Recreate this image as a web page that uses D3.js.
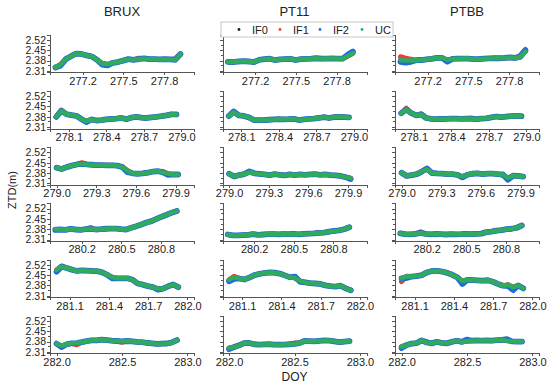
<!DOCTYPE html>
<html lang="en">
<head>
	<meta charset="utf-8"/>
	<title>ZTD time series BRUX / PT11 / PTBB</title>
	<script src="https://d3js.org/d3.v7.min.js" charset="utf-8"></script>
	<style>
	body { margin: 0; background: #fff; }
	text { font-family: "Liberation Sans", Arial, sans-serif; fill: #222; }
	.axis path, .axis line { stroke: #555; shape-rendering: crispEdges; }
	.trace { fill: none; stroke-linejoin: round; stroke-linecap: round; }
	</style>
</head>
<body>
<svg width="550" height="386" id="chart"></svg>

<script>
// DATA
var stations = ["BRUX", "PT11", "PTBB"];
var seriesNames = ["IF0", "IF1", "IF2", "UC"];
var seriesColors = ["#1b1b2f", "#f03c3c", "#1f6be0", "#2fab5e"];

// one row per day of year
var dayStart = [277.0, 278.0, 279.0, 280.0, 281.0, 282.0];
var dayEnd = [277.92, 278.96, 279.92, 280.92, 281.93, 282.92];
var xDomains = [[276.96, 278.02], [277.95, 279.1], [278.95, 280.04], [279.96, 281.05], [280.95, 282.05], [281.95, 283.05]];
var xTicks = [
	[277.2, 277.5, 277.8],
	[278.1, 278.4, 278.7, 279.0],
	[279.0, 279.3, 279.6, 279.9],
	[280.2, 280.5, 280.8],
	[281.1, 281.4, 281.7, 282.0],
	[282.0, 282.5, 283.0]
];
var yTicks = [2.31, 2.38, 2.45, 2.52];
var yMinor = [2.345, 2.415, 2.485];

// UC ztd (m), equally spaced epochs between dayStart and dayEnd
var brux = [
	[2.333, 2.355, 2.39, 2.41, 2.428, 2.425, 2.415, 2.408, 2.385, 2.36, 2.355, 2.365, 2.37, 2.38, 2.39, 2.385, 2.39, 2.395, 2.39, 2.39, 2.388, 2.39, 2.388, 2.385, 2.425],
	[2.38, 2.42, 2.398, 2.392, 2.387, 2.365, 2.35, 2.362, 2.355, 2.357, 2.363, 2.365, 2.368, 2.372, 2.364, 2.375, 2.38, 2.374, 2.372, 2.376, 2.38, 2.384, 2.39, 2.397, 2.396],
	[2.416, 2.407, 2.42, 2.43, 2.438, 2.442, 2.438, 2.436, 2.434, 2.433, 2.432, 2.432, 2.43, 2.42, 2.396, 2.378, 2.375, 2.378, 2.382, 2.39, 2.392, 2.384, 2.376, 2.37, 2.37],
	[2.38, 2.378, 2.376, 2.382, 2.378, 2.376, 2.38, 2.383, 2.378, 2.38, 2.383, 2.384, 2.384, 2.38, 2.378, 2.39, 2.4, 2.412, 2.425, 2.435, 2.45, 2.465, 2.478, 2.492, 2.503],
	[2.485, 2.507, 2.498, 2.487, 2.478, 2.482, 2.48, 2.478, 2.477, 2.468, 2.452, 2.435, 2.428, 2.428, 2.428, 2.418, 2.393, 2.385, 2.375, 2.368, 2.358, 2.358, 2.374, 2.386, 2.368],
	[2.366, 2.352, 2.362, 2.368, 2.37, 2.376, 2.383, 2.389, 2.389, 2.393, 2.39, 2.386, 2.384, 2.382, 2.384, 2.382, 2.378, 2.376, 2.372, 2.368, 2.364, 2.366, 2.367, 2.374, 2.39]
];
var pt11 = [
	[2.372, 2.37, 2.374, 2.376, 2.374, 2.37, 2.385, 2.39, 2.393, 2.384, 2.388, 2.39, 2.392, 2.384, 2.39, 2.392, 2.393, 2.396, 2.393, 2.394, 2.395, 2.394, 2.393, 2.41, 2.43],
	[2.385, 2.41, 2.39, 2.386, 2.376, 2.358, 2.357, 2.358, 2.36, 2.362, 2.364, 2.363, 2.364, 2.366, 2.358, 2.362, 2.366, 2.368, 2.372, 2.378, 2.372, 2.378, 2.38, 2.378, 2.376],
	[2.375, 2.356, 2.366, 2.373, 2.385, 2.378, 2.374, 2.37, 2.366, 2.372, 2.368, 2.364, 2.37, 2.366, 2.37, 2.368, 2.37, 2.372, 2.368, 2.37, 2.366, 2.364, 2.36, 2.352, 2.345],
	[2.344, 2.338, 2.338, 2.34, 2.342, 2.347, 2.342, 2.344, 2.346, 2.347, 2.345, 2.347, 2.346, 2.348, 2.345, 2.348, 2.35, 2.352, 2.355, 2.357, 2.363, 2.368, 2.372, 2.38, 2.393],
	[2.418, 2.436, 2.427, 2.42, 2.433, 2.45, 2.458, 2.464, 2.468, 2.466, 2.46, 2.448, 2.436, 2.43, 2.41, 2.4, 2.396, 2.393, 2.39, 2.38, 2.375, 2.372, 2.378, 2.36, 2.347],
	[2.337, 2.343, 2.355, 2.37, 2.371, 2.362, 2.36, 2.361, 2.362, 2.36, 2.359, 2.36, 2.362, 2.364, 2.37, 2.384, 2.383, 2.382, 2.385, 2.388, 2.387, 2.382, 2.376, 2.38, 2.383]
];
var ptbb = [
	[2.384, 2.38, 2.38, 2.383, 2.384, 2.388, 2.392, 2.398, 2.398, 2.385, 2.392, 2.393, 2.394, 2.394, 2.39, 2.39, 2.393, 2.395, 2.396, 2.396, 2.398, 2.401, 2.398, 2.405, 2.44],
	[2.404, 2.43, 2.405, 2.39, 2.395, 2.372, 2.366, 2.364, 2.365, 2.366, 2.367, 2.367, 2.366, 2.368, 2.366, 2.364, 2.368, 2.37, 2.376, 2.382, 2.378, 2.382, 2.384, 2.386, 2.384],
	[2.382, 2.36, 2.366, 2.373, 2.39, 2.405, 2.38, 2.377, 2.376, 2.372, 2.372, 2.368, 2.356, 2.368, 2.375, 2.378, 2.372, 2.376, 2.376, 2.372, 2.37, 2.346, 2.362, 2.36, 2.356],
	[2.352, 2.346, 2.345, 2.348, 2.355, 2.348, 2.345, 2.348, 2.346, 2.344, 2.346, 2.345, 2.346, 2.348, 2.346, 2.348, 2.35, 2.36, 2.364, 2.37, 2.374, 2.38, 2.383, 2.39, 2.405],
	[2.428, 2.442, 2.44, 2.443, 2.45, 2.468, 2.478, 2.478, 2.474, 2.465, 2.452, 2.435, 2.41, 2.418, 2.416, 2.414, 2.412, 2.415, 2.405, 2.39, 2.378, 2.384, 2.368, 2.38, 2.36],
	[2.346, 2.357, 2.366, 2.37, 2.388, 2.374, 2.368, 2.378, 2.372, 2.368, 2.378, 2.386, 2.378, 2.382, 2.386, 2.388, 2.387, 2.388, 2.386, 2.39, 2.392, 2.386, 2.382, 2.38, 2.38]
];
var ucData = [brux, pt11, ptbb];

// where IF1 / IF2 leave the UC band: [station, day row, epoch index, difference (m)]
var if1Diff = [
	[0, 0, 16, 0.006], [0, 0, 23, 0.008], [0, 1, 1, 0.006], [0, 2, 5, 0.008], [0, 2, 21, 0.006],
	[0, 3, 7, 0.008], [0, 4, 1, 0.005], [0, 5, 1, -0.012], [0, 5, 4, -0.012], [0, 5, 13, -0.006],
	[1, 4, 1, 0.006], [1, 5, 13, 0.006],
	[2, 0, 0, 0.022], [2, 0, 1, 0.016], [2, 0, 2, 0.01], [2, 0, 23, 0.01], [2, 0, 24, 0.016],
	[2, 1, 1, 0.008], [2, 1, 4, 0.006], [2, 1, 14, 0.006], [2, 2, 5, 0.008], [2, 2, 20, -0.006],
	[2, 3, 4, 0.008], [2, 3, 7, -0.006], [2, 4, 0, -0.022], [2, 5, 5, 0.006]
];
var if2Diff = [
	[0, 0, 1, -0.008], [0, 0, 9, -0.008], [0, 0, 10, -0.008], [0, 1, 6, -0.006], [0, 2, 14, -0.01],
	[0, 2, 22, -0.008], [0, 3, 0, -0.005], [0, 4, 0, -0.012], [0, 4, 11, -0.008], [0, 4, 20, -0.006],
	[0, 5, 1, -0.008],
	[1, 0, 23, 0.01], [1, 0, 24, 0.012], [1, 1, 1, 0.006], [1, 2, 4, 0.006], [1, 2, 24, -0.006],
	[1, 4, 0, -0.01], [1, 4, 1, -0.012], [1, 4, 13, 0.01], [1, 4, 14, -0.006], [1, 5, 0, -0.008],
	[2, 0, 0, -0.012], [2, 0, 1, -0.014], [2, 0, 2, -0.008], [2, 0, 9, -0.012], [2, 0, 24, 0.008],
	[2, 2, 5, 0.004], [2, 2, 12, -0.006], [2, 2, 21, -0.012], [2, 4, 1, -0.012], [2, 4, 12, -0.02],
	[2, 4, 21, -0.008], [2, 4, 22, -0.02], [2, 5, 0, -0.01], [2, 5, 13, 0.012], [2, 5, 21, 0.01]
];

// LAYOUT
var colLeft = [50, 222.5, 395],
	panelW = 144,
	panelH = 37.6,
	rowTop = 34.8,
	rowStep = 56.2;

var svg = d3.select("#chart");

var y = d3.scaleLinear()
	.domain([2.30, 2.555])
	.range([panelH, 0]);

// build the four series for one panel
function panelSeries(s, r) {
	var uc = ucData[s][r];
	var n = uc.length;
	var step = (dayEnd[r] - dayStart[r]) / (n - 1);
	var t = uc.map(function(v, i) { return dayStart[r] + i * step; });
	var out = seriesNames.map(function() { return uc.slice(); });
	if1Diff.forEach(function(d) { if (d[0] == s && d[1] == r) out[1][d[2]] += d[3]; });
	if2Diff.forEach(function(d) { if (d[0] == s && d[1] == r) out[2][d[2]] += d[3]; });
	return out.map(function(vals) {
		return vals.map(function(v, i) { return [t[i], v]; });
	});
}

var widths = [4.4, 5, 5.8, 4.5];

stations.forEach(function(st, s) {
	dayStart.forEach(function(d0, r) {
		var g = svg.append("g")
			.attr("transform", "translate(" + colLeft[s] + "," + (rowTop + r * rowStep) + ")");

		var x = d3.scaleLinear()
			.domain(xDomains[r])
			.range([0, panelW]);

		var line = d3.line()
			.x(function(d) { return x(d[0]); })
			.y(function(d) { return y(d[1]); });

		g.selectAll("path.trace")
			.data(panelSeries(s, r))
			.enter().append("path")
			.attr("class", "trace")
			.attr("d", line)
			.attr("stroke", function(d, i) { return seriesColors[i]; })
			.attr("stroke-width", function(d, i) { return widths[i]; });

		// x axis
		var xa = g.append("g")
			.attr("class", "axis")
			.attr("transform", "translate(0," + panelH + ")")
			.call(d3.axisBottom(x).tickValues(xTicks[r]).tickFormat(d3.format(".1f")).tickSizeOuter(0).tickSize(3));
		xa.selectAll("text")
			.attr("font-size", 11)
			.attr("dy", "0.85em")
			.attr("y", 3);

		// y axis (labels only on the first column)
		var ya = g.append("g")
			.attr("class", "axis")
			.call(d3.axisLeft(y).tickValues(yTicks).tickSizeOuter(0).tickSize(3)
				.tickFormat(s == 0 ? d3.format(".2f") : ""));
		ya.selectAll("text")
			.attr("font-size", 10.5)
			.attr("x", -4);
		ya.selectAll(".minor")
			.data(yMinor)
			.enter().append("line")
			.attr("class", "minor")
			.attr("x1", -2)
			.attr("x2", 0)
			.attr("y1", function(d) { return y(d); })
			.attr("y2", function(d) { return y(d); });
		g.selectAll(".axis path, .axis line").attr("stroke", "#555");
		g.selectAll(".axis text").attr("fill", "#222");
	});

	svg.append("text")
		.attr("x", colLeft[s] + panelW / 2)
		.attr("y", 16)
		.attr("text-anchor", "middle")
		.attr("font-size", 13)
		.text(st);
});

// axis titles
svg.append("text")
	.attr("transform", "translate(16,190) rotate(-90)")
	.attr("text-anchor", "middle")
	.attr("font-size", 11)
	.text("ZTD(m)");

svg.append("text")
	.attr("x", colLeft[1] + panelW / 2)
	.attr("y", 381)
	.attr("text-anchor", "middle")
	.attr("font-size", 12)
	.text("DOY");

// legend
var legend = svg.append("g")
	.attr("transform", "translate(221,22)");

legend.append("rect")
	.attr("width", 172)
	.attr("height", 15)
	.attr("fill", "#fff")
	.attr("stroke", "#c8c8c8");

var items = legend.selectAll("g")
	.data(seriesNames)
	.enter().append("g")
	.attr("transform", function(d, i) { return "translate(" + [18, 59, 99, 141][i] + ",0)"; });

items.append("circle")
	.attr("cx", 0)
	.attr("cy", 7.5)
	.attr("r", 1.4)
	.attr("fill", function(d, i) { return seriesColors[i]; });

items.append("text")
	.attr("x", 13)
	.attr("y", 12)
	.attr("font-size", 11)
	.text(function(d) { return d; });
</script>
</body>
</html>
